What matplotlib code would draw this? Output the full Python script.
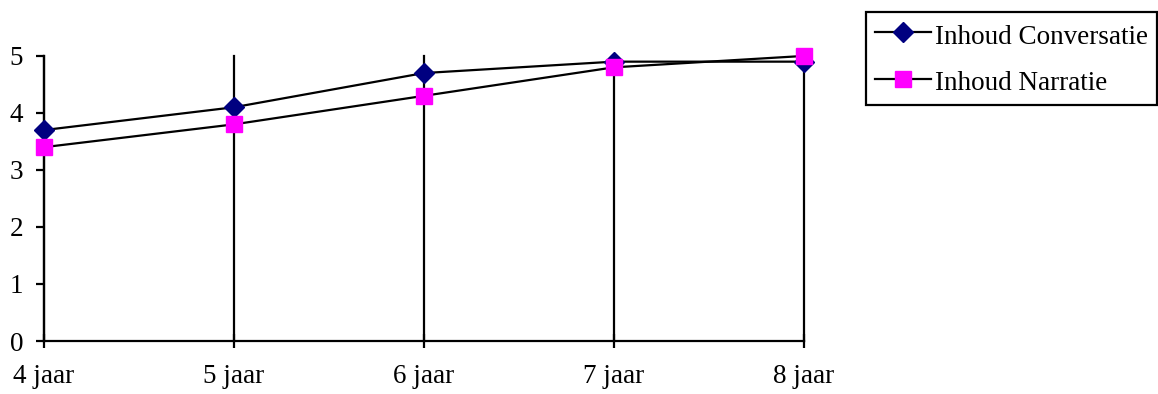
import numpy as np
import matplotlib.pyplot as plt

plt.rcParams['font.family'] = ['Liberation Serif', 'DejaVu Serif']

# data
categories = ['4 jaar', '5 jaar', '6 jaar', '7 jaar', '8 jaar']
conversatie = [3.7, 4.1, 4.7, 4.9, 4.9]
narratie = [3.4, 3.8, 4.3, 4.8, 5.0]

fig = plt.figure(figsize=(11.58, 3.94), dpi=100)
ax = fig.add_axes([0.038, 0.1345, 0.656, 0.7235])

x = np.arange(len(categories))

# vertical gridlines at each category
for xi in x:
    ax.plot([xi, xi], [0, 5], color='black', lw=1.6, zorder=1, clip_on=False)

ax.plot(x, conversatie, color='black', lw=1.6, marker='D', markersize=10.5,
        markerfacecolor='#000080', markeredgecolor='#000080',
        label='Inhoud Conversatie', zorder=3, clip_on=False)
ax.plot(x, narratie, color='black', lw=1.6, marker='s', markersize=11,
        markerfacecolor='#FF00FF', markeredgecolor='#FF00FF',
        label='Inhoud Narratie', zorder=4, clip_on=False)

ax.set_xlim(0, len(categories) - 1)
ax.set_ylim(0, 5)
ax.set_xticks(x)
ax.set_xticklabels(categories)
ax.set_yticks(range(6))

for s in ['top', 'right']:
    ax.spines[s].set_visible(False)
ax.spines['left'].set_linewidth(1.6)
ax.spines['bottom'].set_linewidth(1.6)
ax.tick_params(axis='y', direction='out', length=6, width=1.6, pad=9, labelsize=19.5)
ax.tick_params(axis='x', direction='inout', length=10, width=1.6, pad=11.5, labelsize=19.5)

leg = fig.legend(loc='upper right', bbox_to_anchor=(0.9995, 0.97),
                 frameon=True, fancybox=False, edgecolor='black', framealpha=1,
                 fontsize=19.5, handlelength=2.05, handletextpad=0.15,
                 handleheight=1.1, borderpad=0.35, labelspacing=0.67,
                 borderaxespad=0)
leg.get_frame().set_linewidth(1.6)

fig.savefig('out.png', dpi=100)
